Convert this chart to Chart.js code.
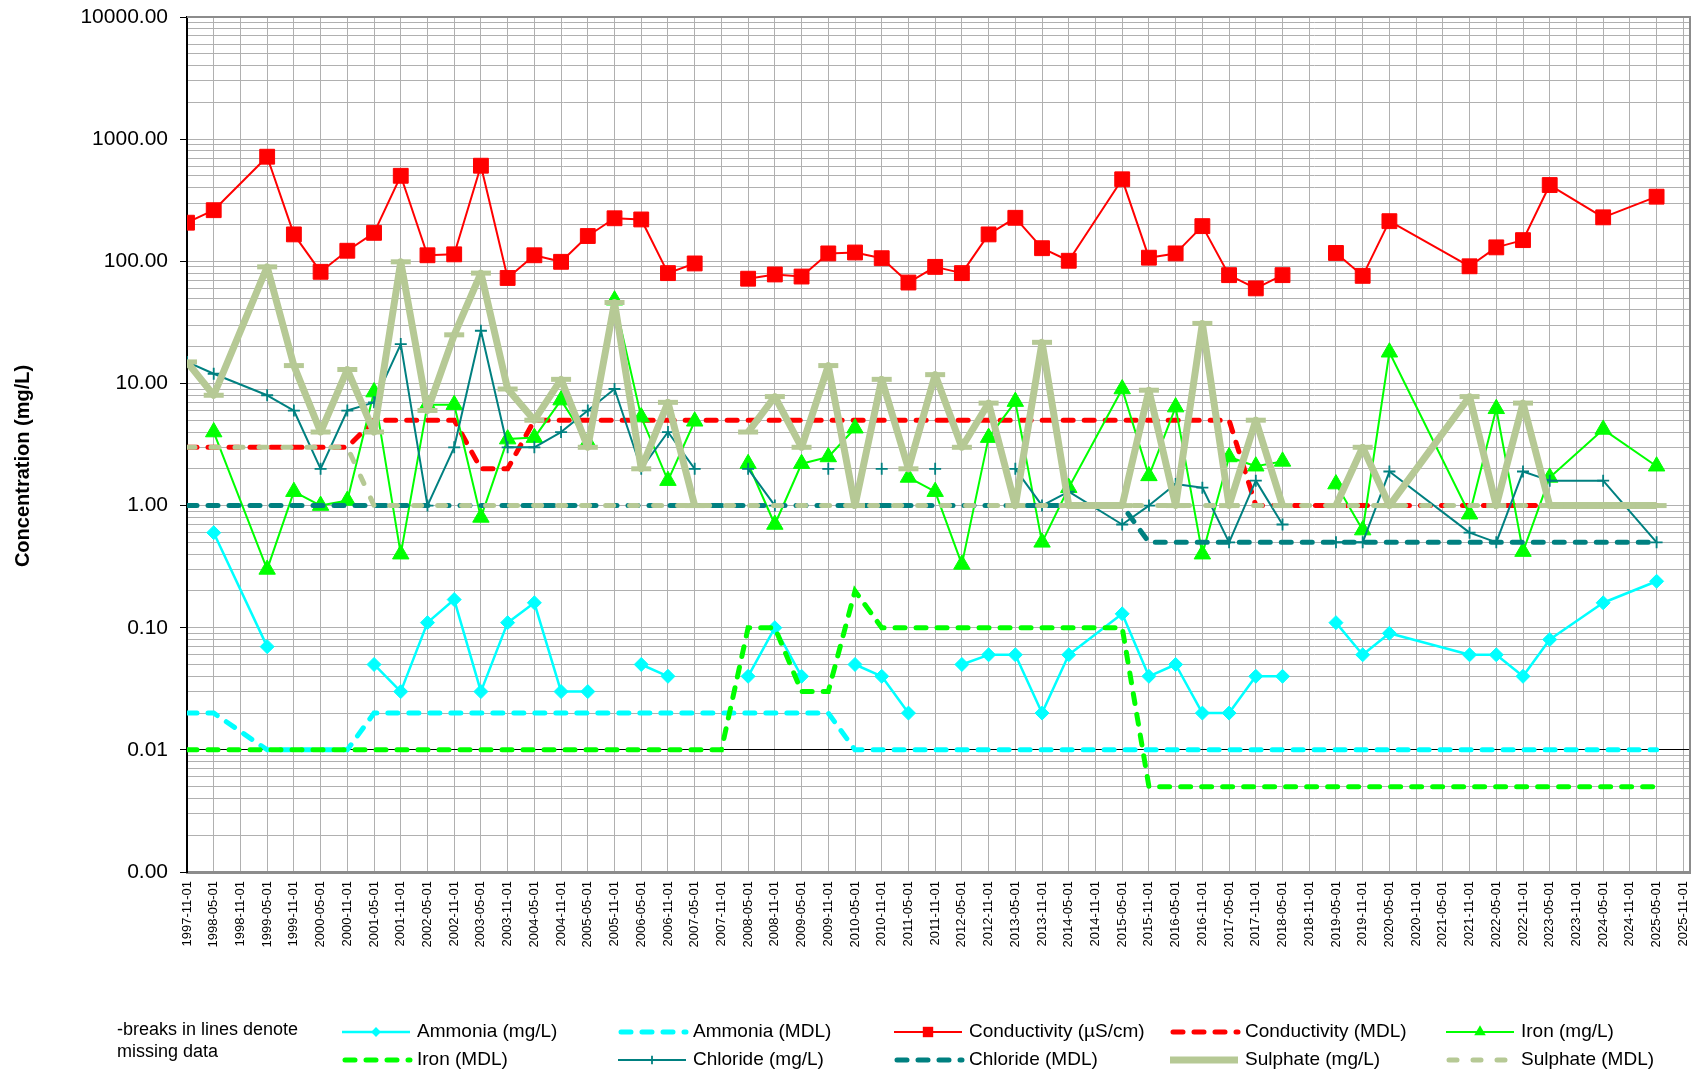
<!DOCTYPE html>
<html>
<head>
<meta charset="utf-8">
<script src="https://cdn.jsdelivr.net/npm/chart.js@4.4.1/dist/chart.umd.min.js"></script>
<style>
  html, body { margin: 0; padding: 0; background: #fff; }
  #wrap { width: 1705px; height: 1074px; }
</style>
</head>
<body>
<div id="wrap"><canvas id="waterChart" width="1705" height="1074"></canvas></div>
<script>
const categories = [
  '1997-11-01', '1998-05-01', '1998-11-01', '1999-05-01', '1999-11-01', '2000-05-01', '2000-11-01', '2001-05-01', '2001-11-01', '2002-05-01',
  '2002-11-01', '2003-05-01', '2003-11-01', '2004-05-01', '2004-11-01', '2005-05-01', '2005-11-01', '2006-05-01', '2006-11-01', '2007-05-01',
  '2007-11-01', '2008-05-01', '2008-11-01', '2009-05-01', '2009-11-01', '2010-05-01', '2010-11-01', '2011-05-01', '2011-11-01', '2012-05-01',
  '2012-11-01', '2013-05-01', '2013-11-01', '2014-05-01', '2014-11-01', '2015-05-01', '2015-11-01', '2016-05-01', '2016-11-01', '2017-05-01',
  '2017-11-01', '2018-05-01', '2018-11-01', '2019-05-01', '2019-11-01', '2020-05-01', '2020-11-01', '2021-05-01', '2021-11-01', '2022-05-01',
  '2022-11-01', '2023-05-01', '2023-11-01', '2024-05-01', '2024-11-01', '2025-05-01', '2025-11-01'
];

// dates with no sampling row at all: lines run straight past them
const missingRows = ['1998-11-01', '2014-11-01', '2020-11-01', '2021-05-01', '2023-11-01', '2024-11-01', '2025-11-01'];

// null = blank result in a sampled row -> break in the line
const ammonia = [
  null, 0.6, null, 0.07, null, null, null, 0.05, 0.03, 0.11,
  0.17, 0.03, 0.11, 0.16, 0.03, 0.03, null, 0.05, 0.04, null,
  null, 0.04, 0.10, 0.04, null, 0.05, 0.04, 0.02, null, 0.05,
  0.06, 0.06, 0.02, 0.06, null, 0.13, 0.04, 0.05, 0.02, 0.02,
  0.04, 0.04, null, 0.11, 0.06, 0.09, null, null, 0.06, 0.06,
  0.04, 0.08, null, 0.16, null, 0.24, null
];
const ammoniaMdl = [
  0.02, 0.02, null, 0.01, 0.01, 0.01, 0.01, 0.02, 0.02, 0.02,
  0.02, 0.02, 0.02, 0.02, 0.02, 0.02, 0.02, 0.02, 0.02, 0.02,
  0.02, 0.02, 0.02, 0.02, 0.02, 0.01, 0.01, 0.01, 0.01, 0.01,
  0.01, 0.01, 0.01, 0.01, null, 0.01, 0.01, 0.01, 0.01, 0.01,
  0.01, 0.01, 0.01, 0.01, 0.01, 0.01, null, null, 0.01, 0.01,
  0.01, 0.01, null, 0.01, null, 0.01, null
];
const conductivity = [
  207, 262, null, 718, 166, 82, 122, 171, 501, 112,
  114, 606, 73, 112, 99, 161, 225, 220, 80, 96,
  null, 72, 78, 75, 116, 118, 106, 67, 90, 80,
  166, 227, 128, 101, null, 469, 107, 116, 194, 77,
  60, 77, null, 117, 76, 213, null, null, 91, 130,
  149, 421, null, 229, null, 338, null
];
const conductivityMdl = [
  3, 3, null, 3, 3, 3, 3, 5, 5, 5,
  5, 2, 2, 5, 5, 5, 5, 5, 5, 5,
  5, 5, 5, 5, 5, 5, 5, 5, 5, 5,
  5, 5, 5, 5, null, 5, 5, 5, 5, 5,
  1, 1, 1, 1, 1, 1, null, null, 1, 1,
  1, 1, null, 1, null, 1, null
];
const iron = [
  null, 4.0, null, 0.3, 1.3, 1.0, 1.1, 8.5, 0.4, 6.7,
  6.7, 0.8, 3.5, 3.6, 7.3, 3.3, 48, 5.3, 1.6, 4.9,
  null, 2.2, 0.7, 2.2, 2.5, 4.3, null, 1.7, 1.3, 0.33,
  3.6, 7.1, 0.5, 1.4, null, 9.0, 1.75, 6.4, 0.4, 2.5,
  2.1, 2.3, null, 1.5, 0.63, 18, null, null, 0.85, 6.2,
  0.42, 1.7, null, 4.2, null, 2.1, null
];
const ironMdl = [
  0.01, 0.01, null, 0.01, 0.01, 0.01, 0.01, 0.01, 0.01, 0.01,
  0.01, 0.01, 0.01, 0.01, 0.01, 0.01, 0.01, 0.01, 0.01, 0.01,
  0.01, 0.1, 0.1, 0.03, 0.03, 0.2, 0.1, 0.1, 0.1, 0.1,
  0.1, 0.1, 0.1, 0.1, null, 0.1, 0.005, 0.005, 0.005, 0.005,
  0.005, 0.005, 0.005, 0.005, 0.005, 0.005, null, null, 0.005, 0.005,
  0.005, 0.005, null, 0.005, null, 0.005, null
];
const chloride = [
  15, 12, null, 8, 6, 2, 6, 7, 21, 1.0,
  3, 27, 3, 3, 4, 6, 9, 2, 4, 2,
  null, 2, 1.0, null, 2, null, 2, null, 2, null,
  null, 2, 1.0, 1.3, null, 0.7, 1.0, 1.5, 1.4, 0.5,
  1.6, 0.7, null, 0.5, 0.5, 1.9, null, null, 0.6, 0.5,
  1.9, 1.6, null, 1.6, null, 0.5, null
];
const chlorideMdl = [
  1, 1, null, 1, 1, 1, 1, 1, 1, 1,
  1, 1, 1, 1, 1, 1, 1, 1, 1, 1,
  1, 1, 1, 1, 1, 1, 1, 1, 1, 1,
  1, 1, 1, 1, null, 1, 0.5, 0.5, 0.5, 0.5,
  0.5, 0.5, 0.5, 0.5, 0.5, 0.5, null, null, 0.5, 0.5,
  0.5, 0.5, null, 0.5, null, 0.5, null
];
const sulphate = [
  15, 8, null, 90, 14, 4, 13, 4, 99, 6,
  25, 80, 9, 5, 10.8, 3, 46, 2, 7, 1,
  null, 4, 7.8, 3, 14, 1, 10.8, 2, 11.8, 3,
  6.9, 1, 21.7, 1, null, 1, 8.8, 1, 31, 1,
  5, 1, null, 1, 3, 1, null, null, 7.8, 1,
  6.9, 1, null, 1, null, 1, null
];
const sulphateMdl = [
  3, 3, null, 3, 3, 3, 3, 1, 1, 1,
  1, 1, 1, 1, 1, 1, 1, 1, 1, 1,
  1, 1, 1, 1, 1, 1, 1, 1, 1, 1,
  1, 1, 1, 1, null, 1, 1, 1, 1, 1,
  1, 1, 1, 1, 1, 1, null, null, 1, 1,
  1, 1, null, 1, null, 1, null
];

const yMajorTicks = [0.001, 0.01, 0.1, 1, 10, 100, 1000, 10000];
const yTickLabels = ['0.00', '0.01', '0.10', '1.00', '10.00', '100.00', '1000.00', '10000.00'];

const FONT = '"Liberation Sans", Arial, sans-serif';
Chart.defaults.font.family = FONT;
Chart.defaults.color = '#000';

function points(values) {
  return values
    .map((v, i) => ({ x: i, y: v }))
    .filter(p => !missingRows.includes(categories[p.x]));
}

const CYAN = '#00FFFF', RED = '#FF0000', LIME = '#00FF00', TEAL = '#008080', KHAKI = '#B6C995';

function measured(label, values, color, style, radius, width) {
  return {
    label, data: points(values), borderColor: color, backgroundColor: color,
    borderWidth: width, pointStyle: style, pointRadius: radius,
    pointBorderWidth: style === 'cross' ? 1.8 : 1, pointBackgroundColor: color, pointBorderColor: color,
    borderJoinStyle: 'round', tension: 0, spanGaps: false
  };
}
function mdl(label, values, color, dash) {
  return {
    label, data: points(values), borderColor: color, backgroundColor: color,
    borderWidth: 5, borderDash: dash, borderCapStyle: 'round', pointRadius: 0,
    tension: 0, spanGaps: false
  };
}

const datasets = [
  measured('Ammonia (mg/L)', ammonia, CYAN, 'rectRot', 7, 2.5),
  mdl('Ammonia (MDL)', ammoniaMdl, CYAN, [10, 11]),
  measured('Conductivity (µS/cm)', conductivity, RED, 'rect', 10.5, 2),
  mdl('Conductivity (MDL)', conductivityMdl, RED, [10, 11]),
  measured('Iron (mg/L)', iron, LIME, 'triangle', 9.5, 2),
  mdl('Iron (MDL)', ironMdl, LIME, [10, 11]),
  measured('Chloride (mg/L)', chloride, TEAL, 'cross', 6, 2),
  mdl('Chloride (MDL)', chlorideMdl, TEAL, [10, 11]),
  measured('Sulphate (mg/L)', sulphate, KHAKI, 'line', 10, 7),
  mdl('Sulphate (MDL)', sulphateMdl, KHAKI, [8, 16])
];
datasets.forEach((d, i) => {
  d.order = datasets.length - i;
  if (d.pointStyle === 'line') d.pointBorderWidth = 5;
});

function drawMarker(ctx, style, r, x, y, color) {
  ctx.fillStyle = color;
  ctx.strokeStyle = color;
  ctx.beginPath();
  if (style === 'rect') {
    const s = r * Math.SQRT1_2;
    ctx.rect(x - s, y - s, 2 * s, 2 * s);
    ctx.fill();
  } else if (style === 'rectRot') {
    ctx.moveTo(x, y - r); ctx.lineTo(x + r, y); ctx.lineTo(x, y + r); ctx.lineTo(x - r, y);
    ctx.closePath(); ctx.fill();
  } else if (style === 'triangle') {
    ctx.moveTo(x, y - r); ctx.lineTo(x + 0.866 * r, y + 0.5 * r); ctx.lineTo(x - 0.866 * r, y + 0.5 * r);
    ctx.closePath(); ctx.fill();
  } else if (style === 'cross') {
    ctx.lineWidth = 1.8;
    ctx.moveTo(x, y - r); ctx.lineTo(x, y + r); ctx.moveTo(x - r, y); ctx.lineTo(x + r, y);
    ctx.stroke();
  }
}

const plotFrame = {
  id: 'plotFrame',
  beforeDatasetsDraw(chart) {
    const { ctx, chartArea: a } = chart;
    ctx.save();
    ctx.strokeStyle = '#8c8c8c';
    ctx.lineWidth = 2;
    ctx.beginPath();
    ctx.moveTo(a.left, a.top);
    ctx.lineTo(a.right, a.top);
    ctx.lineTo(a.right, a.bottom);
    ctx.stroke();
    ctx.restore();
  }
};

const titleAndLegend = {
  id: 'titleAndLegend',
  afterDraw(chart) {
    const ctx = chart.ctx;
    // y axis title
    ctx.save();
    ctx.translate(23, 466);
    ctx.rotate(-Math.PI / 2);
    ctx.font = 'bold 20px ' + FONT;
    ctx.fillStyle = '#000';
    ctx.textAlign = 'center';
    ctx.textBaseline = 'middle';
    ctx.fillText('Concentration (mg/L)', 0, 0);
    ctx.restore();

    // note
    ctx.save();
    ctx.font = '18px ' + FONT;
    ctx.fillStyle = '#000';
    ctx.textBaseline = 'middle';
    ctx.fillText('-breaks in lines denote', 117, 1030);
    ctx.fillText('missing data', 117, 1052);

    // legend, 5 columns x 2 rows
    ctx.font = '19px ' + FONT;
    chart.data.datasets.forEach((d, k) => {
      const x0 = 342 + (k % 5) * 276;
      const y = 1032 + Math.floor(k / 5) * 28;
      ctx.save();
      ctx.strokeStyle = d.borderColor;
      ctx.lineWidth = d.borderWidth;
      ctx.lineCap = d.borderDash ? 'round' : 'butt';
      ctx.setLineDash(d.borderDash || []);
      ctx.beginPath();
      ctx.moveTo(x0 + (d.borderDash ? 3 : 0), y);
      ctx.lineTo(x0 + 68, y);
      ctx.stroke();
      ctx.setLineDash([]);
      if (d.pointRadius) drawMarker(ctx, d.pointStyle, d.pointRadius * 0.7, x0 + 34, y, d.borderColor);
      ctx.restore();
      ctx.fillStyle = '#000';
      ctx.fillText(d.label, x0 + 75, y);
    });
    ctx.restore();
  }
};

const ctx = document.getElementById('waterChart').getContext('2d');
const waterChart = new Chart(ctx, {
  type: 'line',
  data: { datasets },
  plugins: [plotFrame, titleAndLegend],
  options: {
    responsive: false,
    animation: false,
    events: [],
    devicePixelRatio: 1,
    layout: { padding: { left: 0, right: 14, top: 17, bottom: 0 } },
    plugins: { legend: { display: false }, tooltip: { enabled: false } },
    scales: {
      x: {
        type: 'linear',
        min: 0,
        max: 56.25,
        afterBuildTicks: (scale) => { scale.ticks = categories.map((c, i) => ({ value: i })); },
        afterFit: (scale) => {
          scale.height = 202;
          scale.paddingLeft = 0;
          scale.paddingRight = 0;
        },
        ticks: {
          autoSkip: false,
          maxRotation: 90,
          minRotation: 90,
          padding: 9,
          font: { size: 13 },
          callback: (v) => categories[v] ?? ''
        },
        grid: { color: '#b0b0b0', lineWidth: 1, drawTicks: false },
        border: { color: '#8c8c8c', width: 3 }
      },
      y: {
        type: 'logarithmic',
        min: 0.001,
        max: 10000,
        afterBuildTicks: (scale) => {
          const t = [];
          yMajorTicks.forEach((m, i) => {
            t.push({ value: m, major: true });
            if (i < yMajorTicks.length - 1) {
              for (let s = 2; s <= 9; s++) t.push({ value: s * m, major: false });
            }
          });
          scale.ticks = t;
        },
        afterFit: (scale) => {
          scale.width = 187;
          scale.paddingTop = 0;
          scale.paddingBottom = 0;
        },
        ticks: {
          autoSkip: false,
          padding: 12,
          font: { size: 21 },
          callback: (v) => {
            const i = yMajorTicks.indexOf(v);
            return i >= 0 ? yTickLabels[i] : '';
          }
        },
        grid: {
          color: (c) => (c.tick && c.tick.value === 0.01 ? '#000000' : '#b0b0b0'),
          tickColor: (c) => (c.tick && c.tick.major ? '#000000' : 'rgba(0,0,0,0)'),
          tickLength: 7,
          lineWidth: 1
        },
        border: { color: '#000', width: 2 }
      }
    }
  }
});
</script>
</body>
</html>
